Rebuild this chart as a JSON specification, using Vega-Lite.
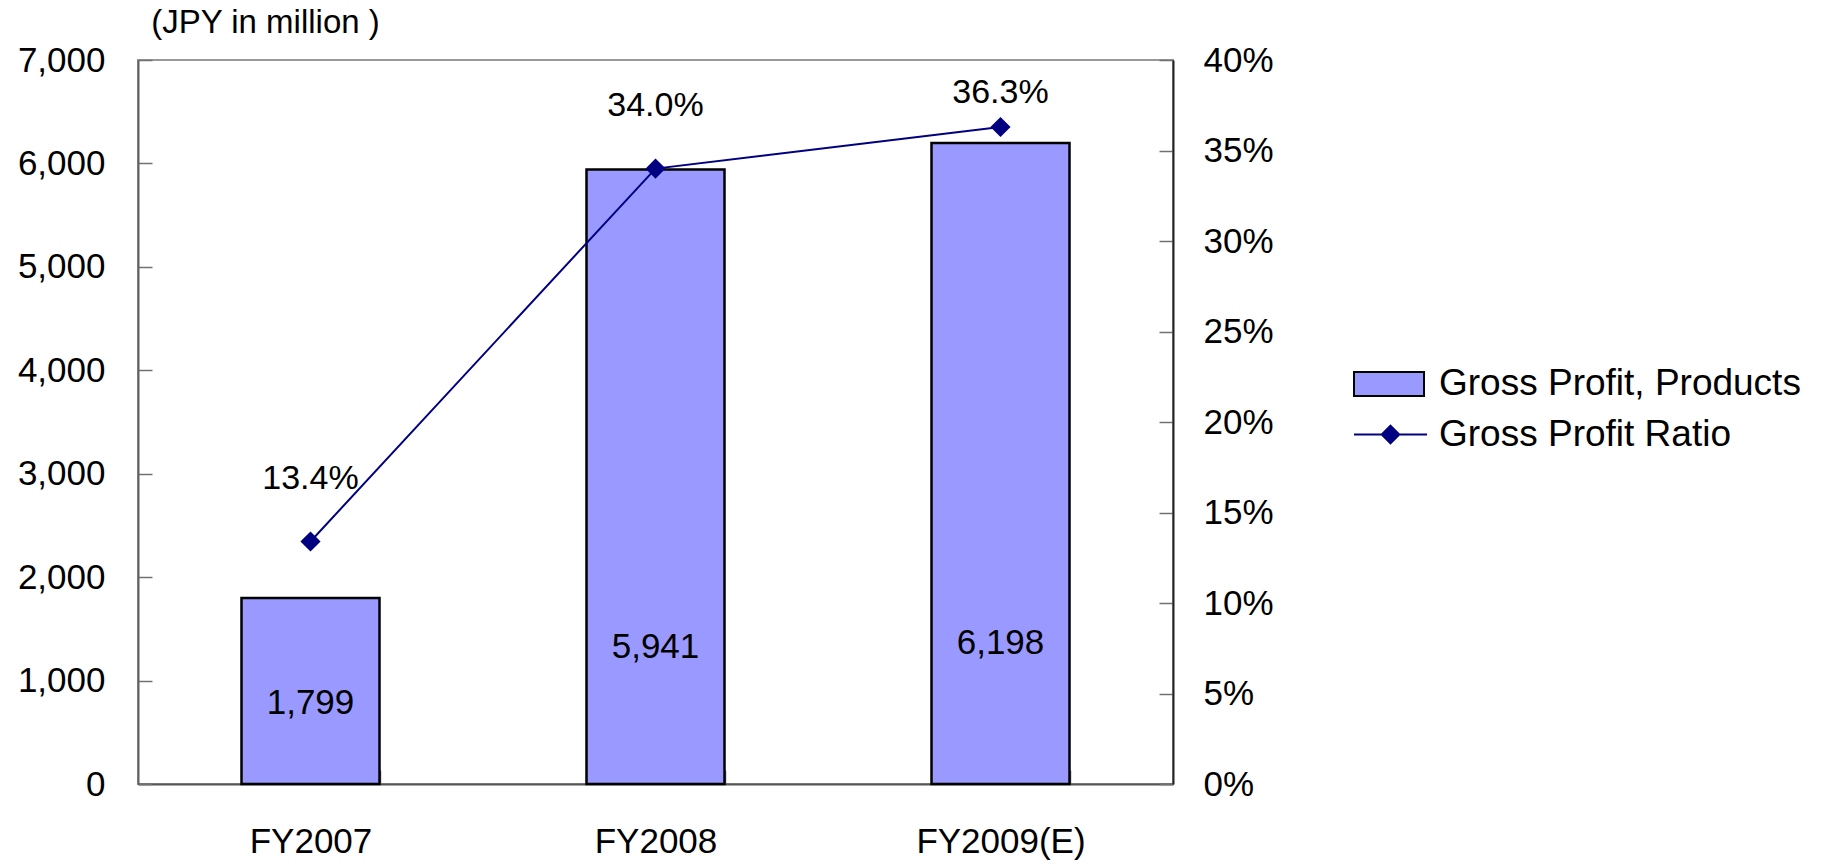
{
  "$schema": "https://vega.github.io/schema/vega-lite/v6.json",
  "width": 1035,
  "height": 724,
  "autosize": {"type": "none"},
  "padding": {"left": 138, "top": 60, "right": 651, "bottom": 80},
  "background": "white",
  "config": {
    "font": "Liberation Sans",
    "view": {"stroke": "#999999", "strokeWidth": 2},
    "axis": {
      "grid": false,
      "labelFontSize": 35,
      "labelColor": "#000000",
      "labelFont": "Liberation Sans",
      "tickColor": "#707070",
      "tickSize": -14,
      "tickWidth": 1.5,
      "domainColor": "#555555",
      "domainWidth": 2
    }
  },
  "data": {
    "values": [
      {"year": "FY2007", "gp": 1799, "ratio": 13.4},
      {"year": "FY2008", "gp": 5941, "ratio": 34.0},
      {"year": "FY2009(E)", "gp": 6198, "ratio": 36.3}
    ]
  },
  "encoding": {
    "x": {
      "field": "year",
      "type": "nominal",
      "sort": null,
      "scale": {"paddingInner": 0.6, "paddingOuter": 0.3},
      "axis": {
        "title": null,
        "labelAngle": 0,
        "tickBand": "extent",
        "labelBaseline": "alphabetic",
        "labelPadding": 82,
        "domainColor": "#555555"
      }
    }
  },
  "layer": [
    {
      "layer": [
        {
          "mark": {"type": "bar", "stroke": "#000000", "strokeWidth": 2.5},
          "encoding": {
            "y": {
              "field": "gp",
              "type": "quantitative",
              "scale": {"domain": [0, 7000], "nice": false},
              "title": "(JPY in million )",
              "axis": {
                "orient": "left",
                "values": [0, 1000, 2000, 3000, 4000, 5000, 6000, 7000],
                "labelExpr": "format(datum.value, ',')",
                "labelPadding": 47,
                "titleAngle": 0,
                "titleX": 127,
                "titleY": -38,
                "titleAlign": "center",
                "titleBaseline": "middle",
                "titleFontSize": 33,
                "titleFontWeight": "normal",
                "titleColor": "#000000",
                "titleFont": "Liberation Sans",
                "domainColor": "#606060"
              }
            },
            "fill": {
              "datum": "Gross Profit, Products",
              "type": "nominal",
              "scale": {"range": ["#9999FF"]},
              "legend": {
                "orient": "none",
                "legendX": 1215,
                "legendY": 288,
                "title": null,
                "padding": 0,
                "symbolType": "M-1,-0.34H1V0.34H-1Z",
                "symbolSize": 4900,
                "symbolStrokeColor": "#000000",
                "symbolStrokeWidth": 2,
                "labelFontSize": 37,
                "labelColor": "#000000",
                "labelOffset": 14,
                "labelLimit": 0,
                "labelFont": "Liberation Sans",
                "encode": {"symbols": {"update": {"stroke": {"value": "#000000"}, "strokeWidth": {"value": 2}}}}
              }
            }
          }
        },
        {
          "transform": [{"calculate": "541 + 0.132*datum.gp", "as": "ly"}],
          "mark": {"type": "text", "fontSize": 35, "baseline": "middle", "color": "#000000"},
          "encoding": {
            "y": {"field": "ly", "type": "quantitative", "title": "(JPY in million )"},
            "text": {"field": "gp", "type": "quantitative", "format": ","}
          }
        }
      ]
    },
    {
      "layer": [
        {
          "mark": {
            "type": "line",
            "strokeWidth": 2,
            "point": {"shape": "diamond", "size": 300, "filled": true, "fill": "#000080", "color": "#000080"}
          },
          "encoding": {
            "y": {
              "field": "ratio",
              "type": "quantitative",
              "scale": {"domain": [0, 40], "nice": false},
              "title": null,
              "axis": {
                "orient": "right",
                "values": [0, 5, 10, 15, 20, 25, 30, 35, 40],
                "labelExpr": "datum.value + '%'",
                "labelPadding": 44,
                "domainColor": "#222222"
              }
            },
            "stroke": {
              "datum": "Gross Profit Ratio",
              "type": "nominal",
              "scale": {"range": ["#000080"]},
              "legend": {
                "orient": "none",
                "legendX": 1215,
                "legendY": 337,
                "title": null,
                "padding": 0,
                "symbolType": "M-1,0H1M0,-0.24L0.24,0L0,0.24L-0.24,0Z",
                "symbolSize": 5329,
                "symbolStrokeWidth": 2,
                "symbolFillColor": "#000080",
                "labelFontSize": 37,
                "labelColor": "#000000",
                "labelOffset": 11,
                "labelLimit": 0,
                "labelFont": "Liberation Sans",
                "encode": {"symbols": {"update": {"fill": {"value": "#000080"}, "stroke": {"value": "#000080"}, "strokeWidth": {"value": 2}}}}
              }
            }
          }
        },
        {
          "transform": [
            {"calculate": "min(datum.ratio + 3.45, 38.2)", "as": "ly2"},
            {"calculate": "format(datum.ratio, '.1f') + '%'", "as": "lbl"}
          ],
          "mark": {"type": "text", "fontSize": 34, "baseline": "middle", "color": "#000000"},
          "encoding": {
            "y": {"field": "ly2", "type": "quantitative", "title": null},
            "text": {"field": "lbl", "type": "nominal"}
          }
        }
      ]
    }
  ],
  "resolve": {"scale": {"y": "independent", "fill": "independent", "stroke": "independent"}}
}
